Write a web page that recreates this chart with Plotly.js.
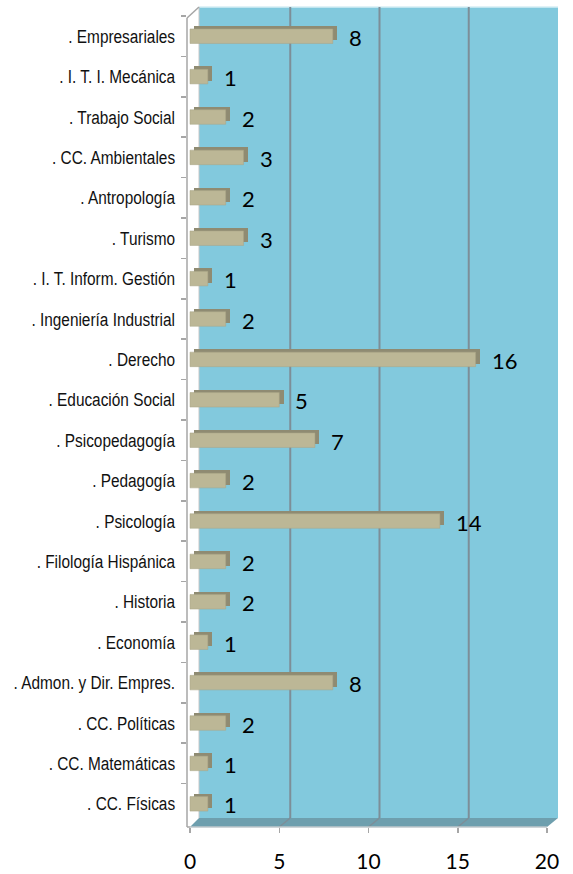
<!DOCTYPE html>
<html>
<head>
<meta charset="utf-8">
<script src="https://cdn.plot.ly/plotly-3.0.1.min.js"></script>
<style>
html,body{margin:0;padding:0;background:#fff;}
#chart{width:573px;height:874px;}
#chart g.ytick{transform-box:fill-box;transform-origin:right center;transform:scaleX(0.81);}
</style>
</head>
<body>
<div id="chart"></div>
<script>
const categories = [". Empresariales", ". I. T. I. Mecánica", ". Trabajo Social", ". CC. Ambientales", ". Antropología", ". Turismo", ". I. T. Inform. Gestión", ". Ingeniería Industrial", ". Derecho", ". Educación Social", ". Psicopedagogía", ". Pedagogía", ". Psicología", ". Filología Hispánica", ". Historia", ". Economía", ". Admon. y Dir. Empres.", ". CC. Políticas", ". CC. Matemáticas", ". CC. Físicas"];
const values = [8, 1, 2, 3, 2, 3, 1, 2, 16, 5, 7, 2, 14, 2, 2, 1, 8, 2, 1, 1];
const xTicks = [0, 5, 10, 15, 20];

// plot-area geometry (pixels)
const L = 187, R = 547, T = 16, B = 827;
const px = x => (x - L) / (R - L);
const py = y => (B - y) / (B - T);
const depthX = 11, depthY = 9;

const shapes = [];
// back wall
shapes.push({type:'path', xref:'paper', yref:'paper', layer:'below',
  path:`M ${px(199)} ${py(B-depthY)} L ${px(R+depthX)} ${py(B-depthY)} L ${px(R+depthX)} ${py(7)} L ${px(199)} ${py(7)} Z`,
  fillcolor:'#82C9DD', line:{width:0}});
// floor
shapes.push({type:'path', xref:'paper', yref:'paper', layer:'below',
  path:`M ${px(190)} ${py(B)} L ${px(R)} ${py(B)} L ${px(R+depthX)} ${py(B-depthY)} L ${px(199)} ${py(B-depthY)} Z`,
  fillcolor:'#6E9FAE', line:{width:0}});
// top edge of back wall
shapes.push({type:'line', xref:'paper', yref:'paper', layer:'below',
  x0:px(199), x1:px(R+depthX), y0:py(7), y1:py(7), line:{color:'#D6EEF4', width:1.5}});
// left back edge
shapes.push({type:'line', xref:'paper', yref:'paper', layer:'below',
  x0:px(199), x1:px(199), y0:py(B-depthY), y1:py(7), line:{color:'#C8C8C8', width:1}});
// grid lines on back wall + floor diagonals
xTicks.filter(v => v > 0).forEach(v => {
  shapes.push({type:'line', xref:'x', xsizemode:'pixel', xanchor:v, x0:depthX, x1:depthX,
    yref:'paper', y0:py(B-depthY), y1:py(7), layer:'below', line:{color:'#7D8E98', width:2}});
  shapes.push({type:'line', xref:'x', xsizemode:'pixel', xanchor:v, x0:0, x1:depthX,
    yref:'paper', y0:py(B), y1:py(B-depthY), layer:'below', line:{color:'#7D8E98', width:1.5}});
});
// left wall axis line with top diagonal
shapes.push({type:'line', xref:'paper', yref:'paper', x0:px(L), x1:px(L), y0:py(B), y1:py(18), line:{color:'#A6A6A6', width:1.5}});
shapes.push({type:'line', xref:'paper', yref:'paper', x0:px(L), x1:px(199), y0:py(18), y1:py(7), line:{color:'#A6A6A6', width:1.5}});
shapes.push({type:'line', xref:'paper', yref:'paper', x0:px(L), x1:px(190), y0:py(B), y1:py(B), line:{color:'#A6A6A6', width:1.5}});
// front edge of floor
shapes.push({type:'line', xref:'paper', yref:'paper', x0:px(190), x1:px(R), y0:py(B), y1:py(B), line:{color:'#BFC7CB', width:1.5}});

const annotations = categories.map((c, i) => ({
  x: values[i], y: c, xref:'x', yref:'y', text: String(values[i]),
  showarrow:false, xanchor:'left', yanchor:'middle', xshift:14, yshift:-1,
  font:{family:'Lato, "Open Sans", sans-serif', size:22, color:'#000'}
}));

const depthTrace = {
  type:'bar', orientation:'h', y:categories, x:values, base:0.25,
  width:0.36, offset:-0.255, marker:{color:'#8F8B72', line:{width:0}},
  hoverinfo:'skip', showlegend:false
};
const frontTrace = {
  type:'bar', orientation:'h', y:categories, x:values, base:0,
  width:0.36, offset:-0.18, marker:{color:'#BCB796', line:{color:'#A9A586', width:0.5}},
  showlegend:false
};

const layout = {
  width:573, height:874,
  margin:{l:L, r:573-R, t:T, b:874-B, pad:0},
  paper_bgcolor:'#ffffff', plot_bgcolor:'rgba(0,0,0,0)',
  barmode:'overlay', bargap:0,
  xaxis:{range:[-(190-L)/((R-190)/20), 20], tickvals:xTicks, ticktext:xTicks.map(String),
    showgrid:false, zeroline:false, showline:false, ticks:'outside', ticklen:5, tickwidth:1.5,
    tickcolor:'#A6A6A6', ticklabelstandoff:11,
    tickfont:{family:'Lato, "Open Sans", sans-serif', size:21, color:'#000'}},
  yaxis:{type:'category', categoryorder:'array', categoryarray:categories,
    range:[19.5 + 3/40.4, -0.5], showgrid:false, zeroline:false, showline:false,
    ticks:'outside', tickson:'boundaries', ticklen:5, tickwidth:1.5, tickcolor:'#A6A6A6',
    ticklabelstandoff:11,
    tickfont:{family:'"Liberation Sans", Arial, sans-serif', size:19, color:'#111'}},
  shapes:shapes, annotations:annotations
};

Plotly.newPlot('chart', [depthTrace, frontTrace], layout, {displayModeBar:false, staticPlot:true});
</script>
</body>
</html>
